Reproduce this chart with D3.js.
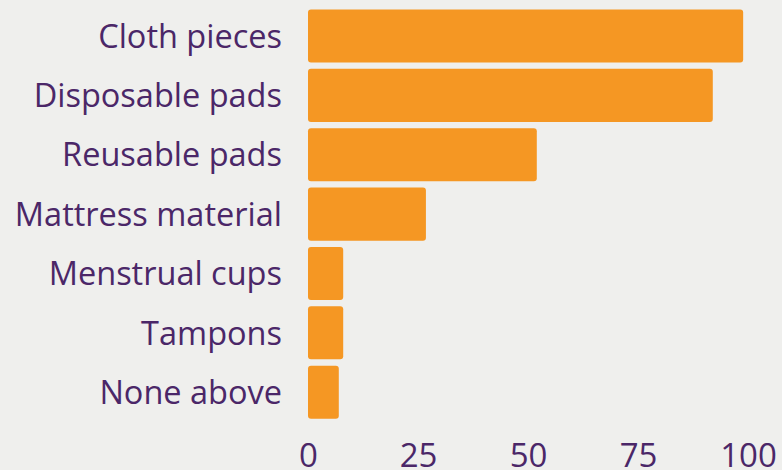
<!DOCTYPE html>
<html>
<head>
<meta charset="utf-8">
<script src="https://cdn.jsdelivr.net/npm/d3@7"></script>
<style>
  body { margin: 0; background: #efefed; }
  svg { display: block; font-family: "Open Sans", sans-serif; }
</style>
</head>
<body>
<svg id="chart" width="782" height="470"></svg>
<script>
const categories = ['Cloth pieces', 'Disposable pads', 'Reusable pads', 'Mattress material', 'Menstrual cups', 'Tampons', 'None above'];
const values = [98.9, 92.0, 52.0, 26.8, 8.0, 8.0, 7.0];
const tick_values = [0, 25, 50, 75, 100];

const svg = d3.select('#chart');
const x = d3.scaleLinear().domain([0, 100]).range([308, 748]);
const y = d3.scaleBand().domain(categories).range([9.5, 418.7]).paddingInner(0.106).paddingOuter(0);

svg.append('g').selectAll('rect')
    .data(categories)
    .join('rect')
    .attr('x', x(0))
    .attr('y', d => y(d))
    .attr('width', (d, i) => x(values[i]) - x(0))
    .attr('height', y.bandwidth())
    .attr('rx', 3)
    .attr('fill', '#f59723');

// category labels
svg.append('g').selectAll('text')
    .data(categories)
    .join('text')
    .attr('x', 282)
    .attr('y', d => y(d) + y.bandwidth() / 2)
    .attr('dy', '0.36em')
    .attr('text-anchor', 'end')
    .attr('font-size', 32.5)
    .attr('fill', '#4b2768')
    .text(d => d);

// x axis, no line or ticks
const xAxis = svg.append('g')
    .attr('transform', 'translate(0, 466.5)')
    .call(d3.axisBottom(x).tickValues(tick_values).tickSize(0).tickPadding(0));
xAxis.select('.domain').remove();
xAxis.selectAll('text')
    .attr('dy', 0)
    .attr('font-size', 33)
    .attr('font-family', '"Open Sans", sans-serif')
    .attr('fill', '#4b2768');
</script>
</body>
</html>
